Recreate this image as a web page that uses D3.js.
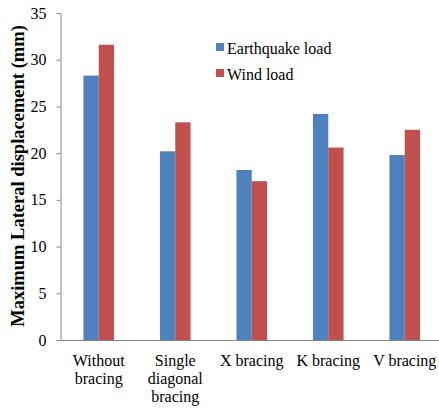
<!DOCTYPE html>
<html>
<head>
<meta charset="utf-8">
<script src="https://cdn.jsdelivr.net/npm/d3@7"></script>
<style>
  html, body { margin: 0; padding: 0; background: #fff; }
  svg { display: block; }
</style>
</head>
<body>
<svg id="chart" width="439" height="410"></svg>
<script>
// Bracing systems compared
const categories = [
  ["Without", "bracing"],
  ["Single", "diagonal", "bracing"],
  ["X bracing"],
  ["K bracing"],
  ["V bracing"]
];
const seriesNames = ["Earthquake load", "Wind load"];
const earthquakeLoad = [28.3, 20.2, 18.2, 24.2, 19.8];
const windLoad = [31.6, 23.3, 17.0, 20.6, 22.5];
const yTicks = [0, 5, 10, 15, 20, 25, 30, 35];
const yTitle = "Maximum Lateral displacement (mm)";

const colors = ["#4F81BD", "#C0504D"];
const axisColor = "#868686";
const serif = "Liberation Serif";

const svg = d3.select("#chart");
const margin = { left: 60.5, right: -4, top: 13, bottom: 70 };
const W = 439, H = 410;

const x = d3.scaleBand()
  .domain(d3.range(categories.length))
  .range([margin.left, W - margin.right])
  .paddingInner(0.6)
  .paddingOuter(0.3);

const xs = d3.scaleBand()
  .domain([0, 1])
  .range([0, x.bandwidth()]);

const y = d3.scaleLinear()
  .domain([0, 35])
  .range([H - margin.bottom, margin.top]);

const values = [earthquakeLoad, windLoad];

// Bars
const groups = svg.append("g")
  .selectAll("g")
  .data(categories.map((c, i) => i))
  .join("g")
  .attr("transform", i => `translate(${x(i)},0)`);

groups.selectAll("rect")
  .data(i => values.map((s, k) => ({ k, v: s[i] })))
  .join("rect")
  .attr("x", d => xs(d.k))
  .attr("width", xs.bandwidth())
  .attr("y", d => y(d.v))
  .attr("height", d => y(0) - y(d.v))
  .attr("fill", d => colors[d.k]);

// Y axis
const yAxis = svg.append("g")
  .attr("transform", `translate(${margin.left},0)`)
  .call(d3.axisLeft(y).tickValues(yTicks).tickSize(4).tickSizeOuter(0).tickPadding(10));
yAxis.attr("font-family", serif).attr("font-size", 16);
yAxis.select(".domain").attr("stroke", axisColor);
yAxis.selectAll(".tick line").attr("stroke", axisColor);
yAxis.selectAll(".tick text")
  .style("font-family", serif)
  .style("font-size", "16px")
  .attr("fill", "#000");

// X axis baseline
svg.append("line")
  .attr("x1", margin.left)
  .attr("x2", W)
  .attr("y1", y(0) + 0.5)
  .attr("y2", y(0) + 0.5)
  .attr("stroke", axisColor);

// Category labels
const xl = svg.append("g");
categories.forEach((lines, i) => {
  const cx = x(i) + x.bandwidth() / 2;
  const t = xl.append("text")
    .attr("text-anchor", "middle")
    .style("font-family", serif)
    .style("font-size", "16px")
    .attr("x", cx)
    .attr("y", 366);
  lines.forEach((ln, j) => {
    t.append("tspan")
      .attr("x", cx)
      .attr("dy", j === 0 ? 0 : 18)
      .text(ln);
  });
});

// Y axis title
svg.append("text")
  .attr("transform", `translate(24,176) rotate(-90)`)
  .attr("text-anchor", "middle")
  .style("font-family", serif)
  .style("font-size", "18.5px")
  .style("font-weight", "bold")
  .text(yTitle);

// Legend
const legend = svg.append("g");
seriesNames.forEach((name, k) => {
  const ly = 43 + k * 26;
  legend.append("rect")
    .attr("x", 216).attr("y", ly)
    .attr("width", 8).attr("height", 8)
    .attr("fill", colors[k]);
  legend.append("text")
    .attr("x", 227).attr("y", ly + 11)
    .style("font-family", serif)
    .style("font-size", "16px")
    .text(name);
});
</script>
</body>
</html>
